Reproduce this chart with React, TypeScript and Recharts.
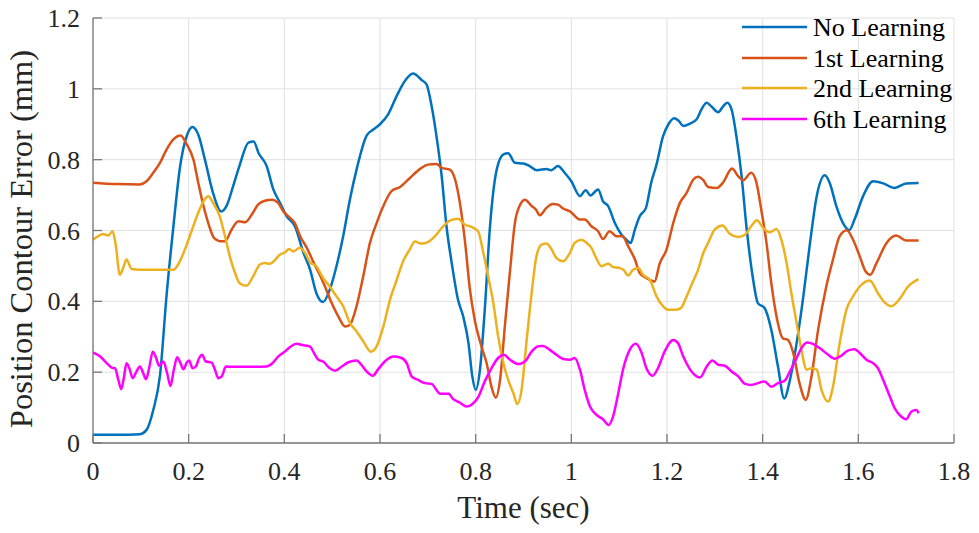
import React from "react"
import { LineChart, Line, XAxis, YAxis, CartesianGrid, Legend } from "recharts"

// [time (sec), contour error (mm)]
const noLearning: [number, number][] = [
  [0, 0.023], [0.05, 0.023], [0.098, 0.025], [0.112, 0.037], [0.126, 0.093], [0.14, 0.19], [0.154, 0.42],
  [0.168, 0.61], [0.182, 0.78], [0.196, 0.867], [0.208, 0.892], [0.22, 0.871], [0.234, 0.8], [0.251, 0.706],
  [0.268, 0.654], [0.279, 0.669], [0.293, 0.725], [0.307, 0.786], [0.325, 0.848], [0.336, 0.851], [0.346, 0.819],
  [0.363, 0.782], [0.377, 0.716], [0.391, 0.678], [0.405, 0.64], [0.422, 0.612], [0.44, 0.537], [0.454, 0.489],
  [0.467, 0.423], [0.481, 0.398], [0.495, 0.433], [0.509, 0.499], [0.523, 0.584], [0.537, 0.687], [0.551, 0.772],
  [0.572, 0.868], [0.586, 0.885], [0.6, 0.9], [0.617, 0.928], [0.635, 0.98], [0.652, 1.022], [0.669, 1.043],
  [0.687, 1.025], [0.697, 1.013], [0.708, 0.951], [0.718, 0.867], [0.729, 0.753], [0.739, 0.612], [0.75, 0.508],
  [0.763, 0.405], [0.774, 0.357], [0.785, 0.282], [0.793, 0.188], [0.8, 0.15], [0.809, 0.207], [0.819, 0.376],
  [0.83, 0.612], [0.844, 0.772], [0.858, 0.815], [0.868, 0.818], [0.882, 0.791], [0.9, 0.789], [0.913, 0.782],
  [0.928, 0.77], [0.948, 0.774], [0.958, 0.77], [0.972, 0.782], [0.986, 0.763], [1.0, 0.739], [1.018, 0.697],
  [1.03, 0.714], [1.04, 0.699], [1.056, 0.716], [1.066, 0.683], [1.077, 0.669], [1.091, 0.621], [1.105, 0.588],
  [1.115, 0.574], [1.124, 0.565], [1.133, 0.603], [1.143, 0.64], [1.156, 0.664], [1.167, 0.735], [1.178, 0.786],
  [1.192, 0.867], [1.203, 0.9], [1.215, 0.917], [1.225, 0.909], [1.234, 0.895], [1.248, 0.902], [1.262, 0.914],
  [1.272, 0.942], [1.283, 0.961], [1.293, 0.95], [1.307, 0.934], [1.317, 0.95], [1.326, 0.961], [1.335, 0.942],
  [1.345, 0.867], [1.356, 0.753], [1.366, 0.612], [1.379, 0.471], [1.39, 0.395], [1.404, 0.381], [1.418, 0.32],
  [1.432, 0.216], [1.445, 0.126], [1.457, 0.178], [1.471, 0.282], [1.485, 0.414], [1.499, 0.565], [1.513, 0.697],
  [1.53, 0.756], [1.54, 0.735], [1.554, 0.669], [1.568, 0.621], [1.581, 0.601], [1.592, 0.631], [1.61, 0.697],
  [1.631, 0.739], [1.652, 0.733], [1.676, 0.72], [1.7, 0.733], [1.726, 0.734],
]

const firstLearning: [number, number][] = [
  [0, 0.735], [0.049, 0.731], [0.098, 0.73], [0.112, 0.739], [0.126, 0.763], [0.14, 0.791], [0.154, 0.829],
  [0.168, 0.857], [0.183, 0.868], [0.196, 0.843], [0.21, 0.8], [0.22, 0.735], [0.231, 0.669], [0.241, 0.621],
  [0.253, 0.579], [0.265, 0.57], [0.276, 0.57], [0.29, 0.603], [0.304, 0.626], [0.318, 0.623], [0.332, 0.645],
  [0.345, 0.673], [0.359, 0.684], [0.375, 0.687], [0.387, 0.678], [0.398, 0.654], [0.412, 0.636], [0.422, 0.621],
  [0.433, 0.584], [0.447, 0.551], [0.46, 0.513], [0.474, 0.475], [0.485, 0.442], [0.499, 0.395], [0.513, 0.357],
  [0.527, 0.329], [0.537, 0.334], [0.551, 0.386], [0.565, 0.471], [0.579, 0.565], [0.593, 0.621], [0.607, 0.669],
  [0.624, 0.711], [0.642, 0.723], [0.663, 0.749], [0.684, 0.774], [0.7, 0.786], [0.718, 0.788], [0.729, 0.777],
  [0.746, 0.772], [0.757, 0.744], [0.767, 0.678], [0.778, 0.565], [0.788, 0.433], [0.798, 0.348], [0.812, 0.273],
  [0.823, 0.225], [0.833, 0.159], [0.842, 0.128], [0.851, 0.178], [0.861, 0.329], [0.872, 0.489], [0.882, 0.621],
  [0.893, 0.673], [0.903, 0.687], [0.917, 0.669], [0.926, 0.659], [0.934, 0.643], [0.948, 0.664], [0.961, 0.675],
  [0.972, 0.673], [0.983, 0.662], [0.997, 0.654], [1.018, 0.631], [1.028, 0.631], [1.042, 0.612], [1.056, 0.598],
  [1.066, 0.576], [1.08, 0.598], [1.094, 0.584], [1.107, 0.584], [1.119, 0.555], [1.133, 0.518], [1.143, 0.48],
  [1.157, 0.466], [1.174, 0.456], [1.185, 0.508], [1.199, 0.546], [1.213, 0.621], [1.227, 0.678], [1.241, 0.706],
  [1.255, 0.744], [1.265, 0.752], [1.276, 0.742], [1.286, 0.723], [1.304, 0.72], [1.317, 0.735], [1.336, 0.775],
  [1.349, 0.753], [1.359, 0.742], [1.376, 0.763], [1.387, 0.735], [1.397, 0.659], [1.408, 0.565], [1.418, 0.452],
  [1.429, 0.357], [1.442, 0.296], [1.453, 0.291], [1.464, 0.254], [1.477, 0.169], [1.49, 0.122], [1.502, 0.188],
  [1.516, 0.32], [1.533, 0.442], [1.547, 0.518], [1.561, 0.584], [1.576, 0.601], [1.589, 0.574], [1.603, 0.527],
  [1.615, 0.485], [1.625, 0.475], [1.638, 0.508], [1.659, 0.565], [1.679, 0.586], [1.7, 0.572], [1.726, 0.572],
]

const secondLearning: [number, number][] = [
  [0, 0.574], [0.011, 0.584], [0.021, 0.59], [0.032, 0.586], [0.041, 0.598], [0.048, 0.555], [0.056, 0.475],
  [0.063, 0.494], [0.07, 0.518], [0.081, 0.491], [0.098, 0.489], [0.133, 0.489], [0.168, 0.489], [0.178, 0.504],
  [0.192, 0.546], [0.206, 0.598], [0.22, 0.65], [0.233, 0.687], [0.241, 0.697], [0.251, 0.678], [0.265, 0.64],
  [0.276, 0.584], [0.286, 0.527], [0.297, 0.48], [0.306, 0.452], [0.321, 0.444], [0.335, 0.471], [0.349, 0.504],
  [0.359, 0.508], [0.37, 0.506], [0.38, 0.516], [0.391, 0.532], [0.401, 0.538], [0.41, 0.548], [0.419, 0.541],
  [0.432, 0.551], [0.443, 0.537], [0.454, 0.51], [0.467, 0.499], [0.481, 0.466], [0.495, 0.442], [0.509, 0.414],
  [0.523, 0.386], [0.537, 0.339], [0.551, 0.315], [0.565, 0.287], [0.581, 0.258], [0.593, 0.273], [0.607, 0.329],
  [0.621, 0.405], [0.635, 0.461], [0.649, 0.515], [0.662, 0.546], [0.673, 0.569], [0.687, 0.563], [0.701, 0.568],
  [0.715, 0.584], [0.729, 0.607], [0.746, 0.628], [0.763, 0.633], [0.777, 0.617], [0.791, 0.61], [0.805, 0.598],
  [0.816, 0.537], [0.826, 0.471], [0.837, 0.395], [0.847, 0.301], [0.858, 0.225], [0.868, 0.178], [0.879, 0.14],
  [0.887, 0.11], [0.896, 0.15], [0.906, 0.282], [0.917, 0.423], [0.927, 0.527], [0.938, 0.56], [0.948, 0.563],
  [0.959, 0.546], [0.969, 0.522], [0.983, 0.513], [0.997, 0.537], [1.007, 0.565], [1.021, 0.574], [1.032, 0.565],
  [1.042, 0.551], [1.052, 0.522], [1.063, 0.499], [1.077, 0.506], [1.087, 0.497], [1.101, 0.494], [1.109, 0.489],
  [1.119, 0.473], [1.129, 0.489], [1.14, 0.494], [1.15, 0.475], [1.164, 0.461], [1.178, 0.414], [1.192, 0.386],
  [1.203, 0.376], [1.216, 0.376], [1.229, 0.381], [1.241, 0.414], [1.253, 0.452], [1.265, 0.489], [1.276, 0.537],
  [1.286, 0.565], [1.3, 0.603], [1.316, 0.614], [1.331, 0.591], [1.349, 0.582], [1.363, 0.588], [1.376, 0.612],
  [1.388, 0.629], [1.401, 0.607], [1.415, 0.595], [1.429, 0.604], [1.439, 0.574], [1.45, 0.508], [1.46, 0.423],
  [1.471, 0.339], [1.481, 0.263], [1.492, 0.207], [1.502, 0.211], [1.513, 0.207], [1.523, 0.15], [1.537, 0.117],
  [1.547, 0.159], [1.561, 0.282], [1.575, 0.376], [1.589, 0.414], [1.603, 0.442], [1.624, 0.459], [1.641, 0.423],
  [1.655, 0.397], [1.669, 0.386], [1.686, 0.406], [1.704, 0.442], [1.726, 0.463],
]

const sixthLearning: [number, number][] = [
  [0, 0.256], [0.015, 0.244], [0.029, 0.225], [0.039, 0.213], [0.046, 0.211], [0.053, 0.178], [0.059, 0.152],
  [0.065, 0.188], [0.07, 0.225], [0.076, 0.211], [0.083, 0.183], [0.091, 0.202], [0.098, 0.216], [0.105, 0.197],
  [0.111, 0.18], [0.118, 0.216], [0.125, 0.258], [0.132, 0.24], [0.138, 0.218], [0.147, 0.23], [0.155, 0.197],
  [0.162, 0.161], [0.169, 0.207], [0.176, 0.242], [0.183, 0.225], [0.189, 0.208], [0.196, 0.227], [0.201, 0.233],
  [0.208, 0.211], [0.215, 0.216], [0.222, 0.24], [0.228, 0.249], [0.236, 0.23], [0.248, 0.227], [0.255, 0.207],
  [0.262, 0.183], [0.269, 0.188], [0.278, 0.216], [0.293, 0.215], [0.328, 0.215], [0.363, 0.216], [0.375, 0.225],
  [0.387, 0.244], [0.401, 0.258], [0.412, 0.271], [0.425, 0.28], [0.44, 0.276], [0.454, 0.272], [0.462, 0.254],
  [0.471, 0.235], [0.481, 0.23], [0.495, 0.211], [0.506, 0.204], [0.52, 0.216], [0.534, 0.228], [0.551, 0.233],
  [0.561, 0.221], [0.572, 0.202], [0.585, 0.19], [0.596, 0.208], [0.614, 0.235], [0.628, 0.244], [0.645, 0.24],
  [0.656, 0.225], [0.666, 0.188], [0.68, 0.178], [0.694, 0.169], [0.708, 0.167], [0.718, 0.15], [0.725, 0.139],
  [0.743, 0.139], [0.753, 0.124], [0.767, 0.114], [0.781, 0.103], [0.792, 0.109], [0.806, 0.131], [0.819, 0.174],
  [0.833, 0.211], [0.847, 0.24], [0.859, 0.249], [0.872, 0.235], [0.889, 0.223], [0.903, 0.23], [0.917, 0.258],
  [0.931, 0.273], [0.941, 0.274], [0.955, 0.263], [0.969, 0.249], [0.983, 0.237], [0.997, 0.235], [1.007, 0.24],
  [1.018, 0.207], [1.028, 0.15], [1.039, 0.103], [1.053, 0.079], [1.066, 0.067], [1.078, 0.051], [1.087, 0.074],
  [1.098, 0.14], [1.108, 0.207], [1.122, 0.263], [1.135, 0.28], [1.147, 0.254], [1.157, 0.211], [1.17, 0.19],
  [1.181, 0.211], [1.195, 0.258], [1.213, 0.291], [1.223, 0.282], [1.234, 0.244], [1.248, 0.208], [1.258, 0.192],
  [1.269, 0.185], [1.283, 0.216], [1.295, 0.233], [1.307, 0.221], [1.321, 0.218], [1.335, 0.202], [1.349, 0.188],
  [1.363, 0.167], [1.376, 0.164], [1.39, 0.169], [1.404, 0.174], [1.418, 0.159], [1.432, 0.169], [1.446, 0.176],
  [1.457, 0.202], [1.471, 0.24], [1.481, 0.268], [1.493, 0.284], [1.505, 0.28], [1.519, 0.268], [1.537, 0.249],
  [1.55, 0.238], [1.565, 0.247], [1.578, 0.261], [1.592, 0.265], [1.603, 0.254], [1.617, 0.235], [1.631, 0.225],
  [1.641, 0.211], [1.652, 0.178], [1.666, 0.131], [1.676, 0.098], [1.69, 0.074], [1.7, 0.067], [1.711, 0.089],
  [1.721, 0.093], [1.726, 0.084],
]

const xTicks = [0, 0.2, 0.4, 0.6, 0.8, 1, 1.2, 1.4, 1.6, 1.8]
const yTicks = [0, 0.2, 0.4, 0.6, 0.8, 1, 1.2]

const seriesNames = ["No Learning", "1st Learning", "2nd Learning", "6th Learning"]
const seriesColors = ["#0072BD", "#D95319", "#EDB120", "#FF00FF"]
const seriesData = [noLearning, firstLearning, secondLearning, sixthLearning]

const FONT = '"Liberation Serif", "Times New Roman", serif'
const AXIS = "#787878"
const TEXT = "#262626"

const toRows = (pts: [number, number][]) => pts.map(([t, v]) => ({ t, v }))

function XTick(props: any) {
  const { x, y, payload } = props
  return (
    <g>
      <line x1={x} y1={y} x2={x} y2={y - 9} stroke={AXIS} strokeWidth={1.3} />
      <text x={x} y={y + 37} textAnchor="middle" fontFamily={FONT} fontSize={26} fill={TEXT}>
        {String(payload.value)}
      </text>
    </g>
  )
}

function YTick(props: any) {
  const { x, y, payload } = props
  return (
    <g>
      <line x1={x} y1={y} x2={x + 9} y2={y} stroke={AXIS} strokeWidth={1.3} />
      <text x={x - 13} y={y + 9} textAnchor="end" fontFamily={FONT} fontSize={26} fill={TEXT}>
        {String(payload.value)}
      </text>
    </g>
  )
}

function LegendBox(props: any) {
  const items = [...(props.payload || [])].sort(
    (a: any, b: any) => seriesNames.indexOf(a.value) - seriesNames.indexOf(b.value)
  )
  return (
    <div style={{ fontFamily: FONT, fontSize: 26, color: "#000" }}>
      {items.map((p: any) => (
        <div key={p.value} style={{ display: "flex", alignItems: "flex-start", height: 30.5, lineHeight: "30.5px" }}>
          <svg width={75} height={30} style={{ flex: "none" }}>
            <line x1={4} y1={14} x2={69} y2={14} stroke={p.color} strokeWidth={2.5} />
          </svg>
          <span style={{ whiteSpace: "nowrap" }}>{p.value}</span>
        </div>
      ))}
    </div>
  )
}

export default function App() {
  return (
    <div style={{ position: "absolute", left: 0, top: 0, width: 979, height: 533, background: "#fff" }}>
      <LineChart width={979} height={533} margin={{ top: 18, right: 25, left: 0, bottom: 0 }}>
        <CartesianGrid stroke="#e0e0e0" strokeWidth={1} />
        <XAxis
          dataKey="t"
          type="number"
          domain={[0, 1.8]}
          ticks={xTicks}
          interval={0}
          height={90}
          tickSize={0}
          tickMargin={0}
          tickLine={false}
          tick={<XTick />}
          axisLine={{ stroke: AXIS, strokeWidth: 1.3 }}
          allowDuplicatedCategory={false}
          label={() => (
            <text x={523.5} y={518} textAnchor="middle" fontFamily={FONT} fontSize={31} fill={TEXT}>
              Time (sec)
            </text>
          )}
        />
        <YAxis
          type="number"
          domain={[0, 1.2]}
          ticks={yTicks}
          interval={0}
          width={93}
          tickSize={0}
          tickMargin={0}
          tickLine={false}
          tick={<YTick />}
          axisLine={{ stroke: AXIS, strokeWidth: 1.3 }}
          label={() => (
            <text
              x={32}
              y={239}
              transform="rotate(-90 32 239)"
              textAnchor="middle"
              fontFamily={FONT}
              fontSize={32.5}
              fill={TEXT}
            >
              Position Contour Error (mm)
            </text>
          )}
        />
        <Legend
          layout="vertical"
          align="center"
          verticalAlign="middle"
          wrapperStyle={{ top: 13, left: 738, width: 240 }}
          content={<LegendBox />}
        />
        {seriesData.map((pts, i) => (
          <Line
            key={seriesNames[i]}
            name={seriesNames[i]}
            data={toRows(pts)}
            dataKey="v"
            type="monotone"
            stroke={seriesColors[i]}
            strokeWidth={2.5}
            dot={false}
            activeDot={false}
            isAnimationActive={false}
          />
        ))}
      </LineChart>
    </div>
  )
}
